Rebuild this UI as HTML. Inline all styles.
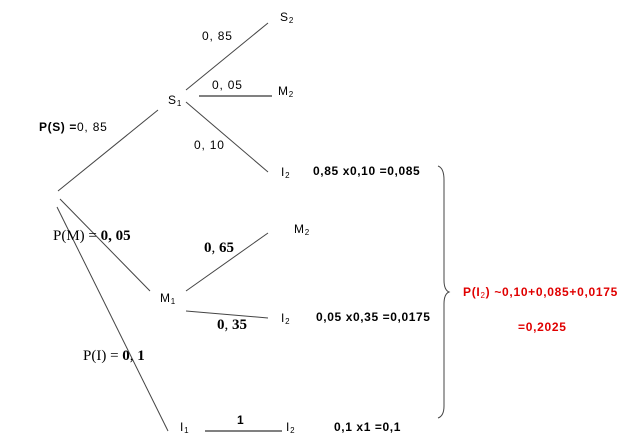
<!DOCTYPE html>
<html><head><meta charset="utf-8"><style>
body{margin:0;width:637px;height:446px;background:#fff;position:relative;overflow:hidden;font-family:"Liberation Sans",sans-serif;}
.t{position:absolute;font-size:12px;color:#000;white-space:nowrap;line-height:14px;letter-spacing:0.8px;}
.b{font-weight:bold;font-size:12px;letter-spacing:0.6px;}
.s{font-family:"Liberation Serif",serif;font-size:15px;letter-spacing:0;}
sub{font-size:8px;vertical-align:-2px;font-weight:normal;}
.r{color:#e00000;font-weight:bold;font-size:12px;letter-spacing:0.7px;}
svg{position:absolute;left:0;top:0;}
</style></head><body>
<svg width="637" height="446">
<g stroke="#444" stroke-width="1" fill="none">
<line x1="186" y1="90" x2="268" y2="23"/>
<line x1="199" y1="96" x2="272" y2="96" stroke="#000"/>
<line x1="186" y1="102" x2="268" y2="172"/>
<line x1="58" y1="191" x2="158" y2="110"/>
<line x1="60" y1="199" x2="150" y2="291"/>
<line x1="57" y1="207" x2="168" y2="431"/>
<line x1="186" y1="291" x2="268" y2="233"/>
<line x1="186" y1="311" x2="268" y2="318"/>
<line x1="205" y1="431" x2="282" y2="431" stroke="#000"/>
<path d="M438,166 Q444,168 444,180 L444,280 Q444,290 449,292 Q444,294 444,304 L444,406 Q444,416 438,418"/>
</g>
</svg>
<div class="t" style="left:280px;top:10px;">S<sub>2</sub></div>
<div class="t" style="left:202px;top:29px;">0, 85</div>
<div class="t" style="left:212px;top:78px;">0, 05</div>
<div class="t" style="left:278px;top:84px;">M<sub>2</sub></div>
<div class="t" style="left:168px;top:93px;">S<sub>1</sub></div>
<div class="t" style="left:194px;top:138px;">0, 10</div>
<div class="t b" style="left:39px;top:120px;">P(S) =<span style="font-weight:normal;letter-spacing:0.8px">0, 85</span></div>
<div class="t" style="left:281px;top:165px;">I<sub>2</sub></div>
<div class="t b" style="left:313px;top:164px;">0,85 x0,10 =0,085</div>
<div class="t" style="left:294px;top:222px;">M<sub>2</sub></div>
<div class="t s" style="left:53px;top:229px;">P(M) = <b>0, 05</b></div>
<div class="t s" style="left:204px;top:241px;"><b>0</b>, <b>65</b></div>
<div class="t" style="left:160px;top:291px;">M<sub>1</sub></div>
<div class="t" style="left:281px;top:311px;">I<sub>2</sub></div>
<div class="t b" style="left:316px;top:310px;">0,05 x0,35 =0,0175</div>
<div class="t s" style="left:217px;top:318px;"><b>0</b>, <b>35</b></div>
<div class="t s" style="left:83px;top:349px;">P(I) = <b>0</b>, <b>1</b></div>
<div class="t" style="left:180px;top:420px;">I<sub>1</sub></div>
<div class="t b" style="left:237px;top:413px;">1</div>
<div class="t" style="left:286px;top:420px;">I<sub>2</sub></div>
<div class="t b" style="left:334px;top:420px;">0,1 x1 =0,1</div>
<div class="t r" style="left:463px;top:285px;">P(I<sub style="color:#e00000">2</sub>) ~0,10+0,085+0,0175</div>
<div class="t r" style="left:518px;top:320px;">=0,2025</div>
</body></html>
